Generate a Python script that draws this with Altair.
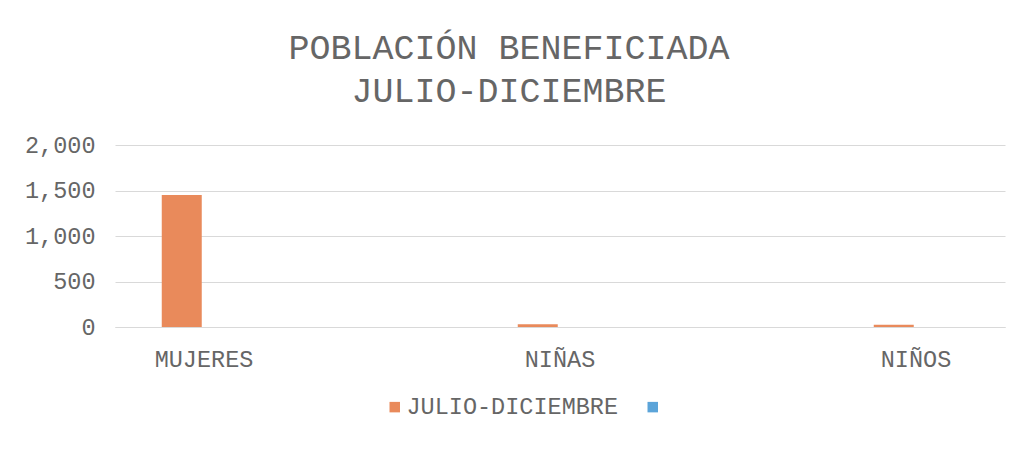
import altair as alt
import pandas as pd

categories = ["MUJERES", "NIÑAS", "NIÑOS"]
series_names = ["JULIO-DICIEMBRE", " "]
values_jul_dic = [1450, 30, 25]
y_ticks = [0, 500, 1000, 1500, 2000]

df = pd.DataFrame({
    "categoria": categories,
    "serie": [series_names[0]] * len(categories),
    "valor": values_jul_dic,
})

FONT = "Courier New, Liberation Mono, monospace"
TXT = "#666666"
GRID = "#d9d9d9"
ORANGE = "#E98A5B"
BLUE = "#5BA4D9"

chart = alt.Chart(df).mark_bar(width=40).encode(
    x=alt.X("categoria:N", sort=categories,
            scale=alt.Scale(paddingInner=0.5, paddingOuter=0),
            axis=alt.Axis(title=None, labelAngle=0, labelFont=FONT, labelFontSize=23.5,
                          labelColor=TXT, labelPadding=20, ticks=False,
                          domainColor=GRID, domainWidth=1)),
    xOffset=alt.XOffset("serie:N", scale=alt.Scale(domain=series_names, paddingInner=0, paddingOuter=1)),
    y=alt.Y("valor:Q", scale=alt.Scale(domain=[0, 2000], nice=False),
            axis=alt.Axis(title=None, values=y_ticks, format=",.0f", labelFont=FONT,
                          labelFontSize=23.5, labelColor=TXT, labelPadding=20,
                          ticks=False, domain=False, gridColor=GRID)),
    color=alt.Color("serie:N", scale=alt.Scale(domain=series_names, range=[ORANGE, BLUE]),
                    legend=alt.Legend(title=None, orient="none", legendX=268, legendY=250,
                                      direction="horizontal", symbolType="square",
                                      symbolSize=110, symbolStrokeWidth=0, labelFont=FONT,
                                      labelFontSize=23.5, labelColor=TXT, labelOffset=0,
                                      labelLimit=500, columnPadding=22, symbolOpacity=1)),
).properties(
    width=890,
    height=182,
    background="white",
    title=alt.TitleParams(["POBLACIÓN BENEFICIADA", "JULIO-DICIEMBRE"], font=FONT,
                          fontSize=35, fontWeight="normal", color=TXT, lineHeight=43,
                          anchor="middle", frame="group", offset=35, baseline="bottom",
                          dy=46, dx=-51),
    autosize=alt.AutoSizeParams(type="none"),
    padding={"left": 107, "top": 137, "right": 8, "bottom": 115},
).configure_view(stroke=None)

chart.save("out.html", embed_options={"renderer": "svg", "actions": False})
